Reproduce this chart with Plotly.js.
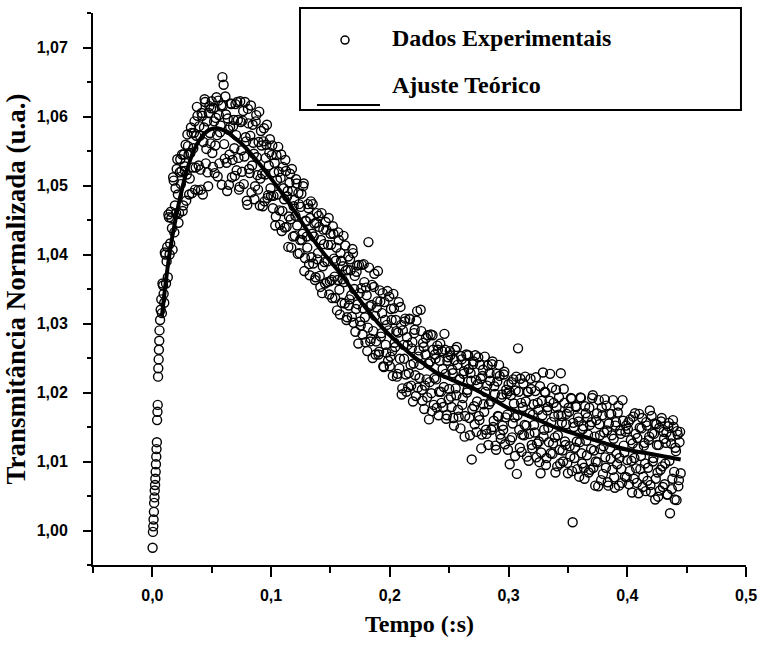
<!DOCTYPE html>
<html>
<head>
<meta charset="utf-8">
<script src="https://cdn.plot.ly/plotly-3.0.1.min.js"></script>
<style>html,body{margin:0;padding:0;background:#fff;}#chart{width:759px;height:650px;}</style>
</head>
<body>
<div id="chart"></div>
<script>
// Experimental data, series A: time (s) and normalized transmittance
var tempo = [
0.0002,0.0005,0.0008,0.0010,0.0013,0.0015,0.0018,0.0020,0.0023,0.0025,0.0028,0.0030,0.0033,0.0035,0.0038,0.0040,0.0043,0.0045,0.0048,0.0050,0.0053,0.0055,0.0058,0.0060,0.0065,0.0070,0.0075,
0.008,0.009,0.010,0.011,0.012,0.013,0.014,0.015,0.016,0.017,
0.018,0.019,0.020,0.021,0.022,0.023,0.024,0.025,0.026,0.027,
0.028,0.029,0.030,0.031,0.032,0.033,0.034,0.035,0.036,0.037,
0.038,0.039,0.040,0.041,0.042,0.043,0.044,0.045,0.046,0.047,
0.048,0.049,
0.050,0.051,0.052,0.053,0.054,0.055,0.056,0.057,0.058,0.059,
0.060,0.061,0.062,0.063,0.064,0.065,0.066,0.067,0.068,0.069,
0.070,0.071,0.072,0.073,0.074,0.075,0.076,0.077,0.078,0.079,
0.080,0.081,0.082,0.083,0.084,0.085,0.086,0.087,0.088,0.089,
0.090,0.091,0.092,0.093,0.094,0.095,0.096,0.097,0.098,0.099,
0.100,
0.101,0.102,0.103,0.104,0.105,0.106,0.107,0.108,0.109,0.110,
0.111,0.112,0.113,0.114,0.115,0.116,0.117,0.118,0.119,0.120,
0.121,0.122,0.123,0.124,0.125,0.126,0.127,0.128,0.129,0.130,
0.131,0.132,0.133,0.134,0.135,0.136,0.137,0.138,0.139,0.140,
0.141,0.142,0.143,0.144,0.145,0.146,0.147,0.148,0.149,0.150,
0.151,0.152,0.153,0.154,0.155,0.156,0.157,0.158,0.159,0.160,
0.161,0.162,0.163,0.164,0.165,0.166,0.167,0.168,0.169,0.170,
0.171,0.172,0.173,0.174,0.175,0.176,0.177,0.178,0.179,0.180,
0.181,0.182,0.183,0.184,0.185,0.186,0.187,0.188,0.189,0.190,
0.191,0.192,0.193,0.194,0.195,0.196,0.197,0.198,0.199,0.200,
0.201,0.202,0.203,0.204,0.205,0.206,0.207,0.208,0.209,0.210,
0.211,0.212,0.213,0.214,0.215,0.216,0.217,0.218,0.219,0.220,
0.221,0.222,0.223,0.224,0.225,0.226,0.227,0.228,0.229,0.230,
0.231,0.232,0.233,0.234,0.235,0.236,0.237,0.238,0.239,0.240,
0.241,0.242,0.243,0.244,0.245,0.246,0.247,0.248,0.249,0.250,
0.251,0.252,0.253,0.254,0.255,0.256,0.257,0.258,0.259,0.260,
0.261,0.262,0.263,0.264,0.265,0.266,0.267,0.268,0.269,0.270,
0.271,0.272,0.273,0.274,0.275,0.276,0.277,0.278,0.279,0.280,
0.281,0.282,0.283,0.284,0.285,0.286,0.287,0.288,0.289,0.290,
0.291,0.292,0.293,0.294,0.295,0.296,0.297,0.298,0.299,0.300,
0.301,0.302,0.303,0.304,0.305,0.306,0.307,0.308,0.309,0.310,
0.311,0.312,0.313,0.314,0.315,0.316,0.317,0.318,0.319,0.320,
0.321,0.322,0.323,0.324,0.325,0.326,0.327,0.328,0.329,0.330,
0.331,0.332,0.333,0.334,0.335,0.336,0.337,0.338,0.339,0.340,
0.341,0.342,0.343,0.344,0.345,0.346,0.347,0.348,0.349,0.350,
0.351,0.352,0.353,0.354,0.355,0.356,0.357,0.358,0.359,0.360,
0.361,0.362,0.363,0.364,0.365,0.366,0.367,0.368,0.369,0.370,
0.371,0.372,0.373,0.374,0.375,0.376,0.377,0.378,0.379,0.380,
0.381,0.382,0.383,0.384,0.385,0.386,0.387,0.388,0.389,0.390,
0.391,0.392,0.393,0.394,0.395,0.396,0.397,0.398,0.399,0.400,
0.401,0.402,0.403,0.404,0.405,0.406,0.407,0.408,0.409,0.410,
0.411,0.412,0.413,0.414,0.415,0.416,0.417,0.418,0.419,0.420,
0.421,0.422,0.423,0.424,0.425,0.426,0.427,0.428,0.429,0.430,
0.431,0.432,0.433,0.434,0.435,0.436,0.437,0.438,0.439,0.440,
0.441,0.442,0.443,0.444,0.445
];
var transmitancia = [
0.9975,0.9998,1.0006,1.0016,1.0027,1.0040,1.0048,1.0058,1.0066,1.0075,1.0085,1.0096,1.0107,1.0118,1.0128,1.0160,1.0172,1.0182,1.0223,1.0235,1.0248,1.0262,1.0275,1.0290,1.0305,1.0320,1.0335,
1.0315,1.0355,1.0330,1.0400,1.0390,1.0367,1.0454,1.0416,1.0453,1.0407,
1.0507,1.0471,1.0460,1.0538,1.0446,1.0519,1.0502,1.0545,1.0471,1.0528,
1.0559,1.0516,1.0557,1.0487,1.0547,1.0576,1.0526,1.0576,1.0494,1.0572,
1.0601,1.0529,1.0572,1.0494,1.0601,1.0563,1.0625,1.0532,1.0593,1.0499,
1.0615,1.0561,
1.0622,1.0527,1.0593,1.0558,1.0628,1.0513,1.0602,1.0577,1.0616,1.0657,
1.0646,1.0539,1.0603,1.0492,1.0581,1.0545,1.0619,1.0512,1.0586,1.0554,
1.0618,1.0522,1.0595,1.0494,1.0622,1.0551,1.0594,1.0502,1.0621,1.0564,
1.0472,1.0590,1.0518,1.0616,1.0529,1.0562,1.0480,1.0593,1.0541,1.0494,
1.0607,1.0510,1.0558,1.0470,1.0583,1.0516,1.0559,1.0482,1.0529,1.0567,
1.0485,
1.0558,1.0485,1.0533,1.0455,1.0508,1.0556,1.0464,1.0511,1.0434,1.0527,
1.0480,1.0537,1.0440,1.0492,1.0455,1.0517,1.0410,1.0492,1.0470,1.0427,
1.0509,1.0442,1.0489,1.0402,1.0469,1.0421,1.0499,1.0376,1.0449,1.0426,
1.0473,1.0386,1.0453,1.0396,1.0473,1.0426,1.0363,1.0446,1.0393,1.0456,
1.0369,1.0421,1.0344,1.0436,1.0389,1.0447,1.0360,1.0414,1.0342,1.0430,
1.0363,1.0441,1.0394,1.0337,1.0410,1.0363,1.0421,1.0313,1.0391,1.0364,
1.0427,1.0329,1.0377,1.0309,1.0397,1.0335,1.0377,1.0310,1.0402,1.0350,
1.0288,1.0375,1.0328,1.0385,1.0303,1.0351,1.0284,1.0386,1.0309,1.0352,
1.0260,1.0418,1.0325,1.0278,1.0356,1.0289,1.0372,1.0255,1.0323,1.0376,
1.0259,1.0332,1.0286,1.0344,1.0237,1.0305,1.0258,1.0347,1.0290,1.0238,
1.0321,1.0260,1.0343,1.0272,1.0305,1.0223,1.0287,1.0235,1.0324,1.0197,
1.0290,1.0249,1.0307,1.0201,1.0269,1.0228,1.0306,1.0210,1.0273,1.0242,
1.0291,1.0195,1.0318,1.0252,1.0221,1.0320,1.0204,1.0272,1.0176,1.0255,
1.0219,1.0283,1.0161,1.0245,1.0199,1.0283,1.0182,1.0255,1.0219,1.0268,
1.0167,1.0246,1.0201,1.0260,1.0179,1.0285,1.0227,1.0167,1.0251,1.0205,
1.0254,1.0179,1.0228,1.0152,1.0262,1.0196,1.0240,1.0165,1.0219,1.0253,
1.0182,1.0227,1.0136,1.0241,1.0200,1.0254,1.0163,1.0228,1.0103,1.0241,
1.0180,1.0254,1.0143,1.0212,1.0166,1.0240,1.0119,1.0224,1.0183,1.0252,
1.0146,1.0210,1.0124,1.0228,1.0187,1.0241,1.0150,1.0209,1.0123,1.0227,
1.0166,1.0240,1.0139,1.0193,1.0152,1.0226,1.0125,1.0204,1.0168,1.0212,
1.0096,1.0196,1.0135,1.0219,1.0164,1.0203,1.0082,1.0264,1.0146,1.0220,
1.0114,1.0179,1.0138,1.0223,1.0152,1.0201,1.0101,1.0170,1.0205,1.0119,
1.0183,1.0142,1.0222,1.0126,1.0175,1.0099,1.0083,1.0188,1.0229,1.0146,
1.0200,1.0105,1.0179,1.0128,1.0227,1.0157,1.0111,1.0185,1.0135,1.0204,
1.0093,1.0168,1.0117,1.0228,1.0156,1.0100,1.0185,1.0124,1.0169,1.0083,
1.0172,1.0107,1.0191,1.0012,1.0150,1.0120,1.0179,1.0089,1.0158,1.0128,
1.0192,1.0097,1.0151,1.0075,1.0170,1.0109,1.0139,1.0178,1.0088,1.0157,
1.0196,1.0116,1.0065,1.0160,1.0099,1.0189,1.0138,1.0073,1.0167,1.0122,
1.0190,1.0091,1.0145,1.0065,1.0169,1.0104,1.0138,1.0189,1.0077,1.0152,
1.0111,1.0171,1.0065,1.0145,1.0089,1.0189,1.0123,1.0078,1.0152,1.0102,
1.0157,1.0086,1.0131,1.0055,1.0165,1.0105,1.0140,1.0069,1.0119,1.0169,
1.0089,1.0148,1.0063,1.0123,1.0097,1.0157,1.0072,1.0131,1.0174,1.0056,
1.0141,1.0105,1.0155,1.0075,1.0124,1.0049,1.0149,1.0088,1.0163,1.0063,
1.0133,1.0097,1.0142,1.0052,1.0156,1.0025,1.0126,1.0075,1.0150,1.0045,
1.0115,1.0144,1.0064,1.0128,1.0083
];
// Experimental data, series B (interleaved samples)
var tempoB = [
0.0085,0.0095,0.0105,0.0115,0.0125,0.0135,0.0145,0.0155,0.0165,0.0175,
0.0185,0.0195,0.0205,0.0215,0.0225,0.0235,0.0245,0.0255,0.0265,0.0275,
0.0285,0.0295,0.0305,0.0315,0.0325,0.0335,0.0345,0.0355,0.0365,0.0375,
0.0385,0.0395,0.0405,0.0415,0.0425,0.0435,0.0445,0.0455,0.0465,0.0475,
0.0485,0.0495,
0.0505,0.0515,0.0525,0.0535,0.0545,0.0555,0.0565,0.0575,0.0585,0.0595,
0.0605,0.0615,0.0625,0.0635,0.0645,0.0655,0.0665,0.0675,0.0685,0.0695,
0.0705,0.0715,0.0725,0.0735,0.0745,0.0755,0.0765,0.0775,0.0785,0.0795,
0.0805,0.0815,0.0825,0.0835,0.0845,0.0855,0.0865,0.0875,0.0885,0.0895,
0.0905,0.0915,0.0925,0.0935,0.0945,0.0955,0.0965,0.0975,0.0985,0.0995,
0.1005,0.1015,0.1025,0.1035,0.1045,0.1055,0.1065,0.1075,0.1085,0.1095,
0.1105,0.1115,0.1125,0.1135,0.1145,0.1155,0.1165,0.1175,0.1185,0.1195,
0.1205,0.1215,0.1225,0.1235,0.1245,0.1255,0.1265,0.1275,0.1285,0.1295,
0.1305,0.1315,0.1325,0.1335,0.1345,0.1355,0.1365,0.1375,0.1385,0.1395,
0.1405,0.1415,0.1425,0.1435,0.1445,0.1455,0.1465,0.1475,0.1485,0.1495,
0.1505,0.1515,0.1525,0.1535,0.1545,0.1555,0.1565,0.1575,0.1585,0.1595,
0.1605,0.1615,0.1625,0.1635,0.1645,0.1655,0.1665,0.1675,0.1685,0.1695,
0.1705,0.1715,0.1725,0.1735,0.1745,0.1755,0.1765,0.1775,0.1785,0.1795,
0.1805,0.1815,0.1825,0.1835,0.1845,0.1855,0.1865,0.1875,0.1885,0.1895,
0.1905,0.1915,0.1925,0.1935,0.1945,0.1955,0.1965,0.1975,0.1985,0.1995,
0.2005,0.2015,0.2025,0.2035,0.2045,0.2055,0.2065,0.2075,0.2085,0.2095,
0.2105,0.2115,0.2125,0.2135,0.2145,0.2155,0.2165,0.2175,0.2185,0.2195,
0.2205,0.2215,0.2225,0.2235,0.2245,0.2255,0.2265,0.2275,0.2285,0.2295,
0.2305,0.2315,0.2325,0.2335,0.2345,0.2355,0.2365,0.2375,0.2385,0.2395,
0.2405,0.2415,0.2425,0.2435,0.2445,0.2455,0.2465,0.2475,0.2485,0.2495,
0.2505,0.2515,0.2525,0.2535,0.2545,0.2555,0.2565,0.2575,0.2585,0.2595,
0.2605,0.2615,0.2625,0.2635,0.2645,0.2655,0.2665,0.2675,0.2685,0.2695,
0.2705,0.2715,0.2725,0.2735,0.2745,0.2755,0.2765,0.2775,0.2785,0.2795,
0.2805,0.2815,0.2825,0.2835,0.2845,0.2855,0.2865,0.2875,0.2885,0.2895,
0.2905,0.2915,0.2925,0.2935,0.2945,0.2955,0.2965,0.2975,0.2985,0.2995,
0.3005,0.3015,0.3025,0.3035,0.3045,0.3055,0.3065,0.3075,0.3085,0.3095,
0.3105,0.3115,0.3125,0.3135,0.3145,0.3155,0.3165,0.3175,0.3185,0.3195,
0.3205,0.3215,0.3225,0.3235,0.3245,0.3255,0.3265,0.3275,0.3285,0.3295,
0.3305,0.3315,0.3325,0.3335,0.3345,0.3355,0.3365,0.3375,0.3385,0.3395,
0.3405,0.3415,0.3425,0.3435,0.3445,0.3455,0.3465,0.3475,0.3485,0.3495,
0.3505,0.3515,0.3525,0.3535,0.3545,0.3555,0.3565,0.3575,0.3585,0.3595,
0.3605,0.3615,0.3625,0.3635,0.3645,0.3655,0.3665,0.3675,0.3685,0.3695,
0.3705,0.3715,0.3725,0.3735,0.3745,0.3755,0.3765,0.3775,0.3785,0.3795,
0.3805,0.3815,0.3825,0.3835,0.3845,0.3855,0.3865,0.3875,0.3885,0.3895,
0.3905,0.3915,0.3925,0.3935,0.3945,0.3955,0.3965,0.3975,0.3985,0.3995,
0.4005,0.4015,0.4025,0.4035,0.4045,0.4055,0.4065,0.4075,0.4085,0.4095,
0.4105,0.4115,0.4125,0.4135,0.4145,0.4155,0.4165,0.4175,0.4185,0.4195,
0.4205,0.4215,0.4225,0.4235,0.4245,0.4255,0.4265,0.4275,0.4285,0.4295,
0.4305,0.4315,0.4325,0.4335,0.4345,0.4355,0.4365,0.4375,0.4385,0.4395,
0.4405,0.4415,0.4425,0.4435,0.4445
];
var transmitanciaB = [
1.0358,1.0343,1.0403,1.0358,1.0411,1.0458,1.0400,1.0462,1.0438,1.0512,
1.0432,1.0496,1.0524,1.0487,1.0460,1.0538,1.0521,1.0463,1.0545,1.0521,
1.0478,1.0574,1.0545,1.0510,1.0584,1.0489,1.0554,1.0593,1.0526,1.0614,
1.0493,1.0586,1.0523,1.0605,1.0487,1.0584,1.0621,1.0553,1.0519,1.0605,
1.0576,1.0612,
1.0547,1.0612,1.0518,1.0598,1.0573,1.0623,1.0532,1.0587,1.0501,1.0616,
1.0560,1.0629,1.0533,1.0597,1.0501,1.0585,1.0618,1.0537,1.0595,1.0514,
1.0573,1.0621,1.0540,1.0498,1.0592,1.0520,1.0608,1.0542,1.0570,1.0478,
1.0611,1.0524,1.0572,1.0490,1.0588,1.0546,1.0499,1.0602,1.0515,1.0563,
1.0471,1.0579,1.0517,1.0564,1.0477,1.0540,1.0588,1.0486,1.0548,1.0496,
1.0544,1.0467,1.0519,1.0442,1.0544,1.0487,1.0520,1.0443,1.0545,1.0463,
1.0496,1.0439,1.0521,1.0484,1.0411,1.0504,1.0451,1.0524,1.0426,1.0479,
1.0456,1.0503,1.0401,1.0473,1.0421,1.0488,1.0430,1.0503,1.0395,1.0448,
1.0410,1.0467,1.0370,1.0477,1.0430,1.0387,1.0445,1.0367,1.0460,1.0402,
1.0440,1.0353,1.0460,1.0383,1.0415,1.0358,1.0436,1.0390,1.0453,1.0361,
1.0414,1.0337,1.0430,1.0368,1.0391,1.0319,1.0432,1.0349,1.0402,1.0330,
1.0383,1.0360,1.0413,1.0305,1.0378,1.0326,1.0393,1.0341,1.0408,1.0301,
1.0369,1.0321,1.0384,1.0271,1.0344,1.0297,1.0385,1.0322,1.0360,1.0273,
1.0341,1.0294,1.0381,1.0274,1.0327,1.0250,1.0353,1.0311,1.0274,1.0332,
1.0255,1.0348,1.0281,1.0315,1.0238,1.0331,1.0269,1.0298,1.0246,1.0339,
1.0252,1.0305,1.0224,1.0322,1.0266,1.0289,1.0227,1.0331,1.0249,1.0298,
1.0206,1.0269,1.0303,1.0226,1.0280,1.0208,1.0307,1.0240,1.0264,1.0187,
1.0286,1.0225,1.0304,1.0207,1.0261,1.0240,1.0289,1.0188,1.0266,1.0210,
1.0279,1.0193,1.0242,1.0215,1.0284,1.0173,1.0262,1.0221,1.0249,1.0178,
1.0262,1.0201,1.0271,1.0185,1.0234,1.0208,1.0262,1.0162,1.0246,1.0190,
1.0260,1.0194,1.0233,1.0163,1.0247,1.0206,1.0266,1.0175,1.0219,1.0148,
1.0248,1.0192,1.0231,1.0166,1.0255,1.0204,1.0234,1.0138,1.0217,1.0176,
1.0245,1.0154,1.0218,1.0187,1.0251,1.0160,1.0220,1.0139,1.0233,1.0172,
1.0201,1.0140,1.0239,1.0183,1.0217,1.0146,1.0245,1.0159,1.0198,1.0117,
1.0216,1.0165,1.0224,1.0133,1.0197,1.0146,1.0230,1.0164,1.0198,1.0117,
1.0202,1.0131,1.0215,1.0155,1.0184,1.0108,1.0223,1.0167,1.0201,1.0120,
1.0185,1.0139,1.0213,1.0153,1.0187,1.0107,1.0201,1.0140,1.0220,1.0124,
1.0168,1.0153,1.0202,1.0106,1.0185,1.0129,1.0209,1.0113,1.0167,1.0136,
1.0201,1.0095,1.0174,1.0149,1.0188,1.0112,1.0207,1.0126,1.0165,1.0084,
1.0179,1.0138,1.0193,1.0097,1.0166,1.0116,1.0205,1.0129,1.0154,1.0098,
1.0178,1.0122,1.0192,1.0086,1.0156,1.0105,1.0180,1.0129,1.0164,1.0078,
1.0193,1.0112,1.0147,1.0091,1.0180,1.0130,1.0164,1.0084,1.0153,1.0118,
1.0192,1.0091,1.0136,1.0100,1.0170,1.0064,1.0154,1.0118,1.0178,1.0082,
1.0142,1.0106,1.0181,1.0070,1.0155,1.0119,1.0169,1.0088,1.0133,1.0062,
1.0157,1.0096,1.0181,1.0105,1.0140,1.0069,1.0159,1.0113,1.0143,1.0077,
1.0147,1.0067,1.0161,1.0101,1.0126,1.0075,1.0170,1.0090,1.0134,1.0054,
1.0149,1.0108,1.0163,1.0078,1.0127,1.0057,1.0152,1.0091,1.0136,1.0066,
1.0166,1.0100,1.0140,1.0045,1.0154,1.0084,1.0124,1.0058,1.0158,1.0093,
1.0143,1.0067,1.0127,1.0052,1.0151,1.0101,1.0136,1.0060,1.0160,1.0085,
1.0120,1.0044,1.0139,1.0073,1.0143
];
// Theoretical fit curve
var ajusteTempo = [0.008,0.012,0.016,0.02,0.025,0.03,0.035,0.04,0.045,0.05,0.055,0.06,0.065,0.07,0.075,0.08,0.085,0.09,0.095,0.1,0.11,0.12,0.13,0.14,0.15,0.16,0.17,0.18,0.19,0.2,0.21,0.22,0.23,0.24,0.25,0.26,0.27,0.28,0.29,0.3,0.32,0.34,0.36,0.38,0.4,0.42,0.445];
var ajusteValor = [1.0310,1.0370,1.0418,1.0455,1.0495,1.0527,1.0551,1.0567,1.0577,1.0582,1.0583,1.0580,1.0575,1.0568,1.0561,1.0552,1.0542,1.0532,1.0521,1.0510,1.0487,1.0462,1.0436,1.0411,1.0390,1.0369,1.0345,1.0322,1.0301,1.0283,1.0267,1.0252,1.0240,1.0228,1.0220,1.0213,1.0206,1.0197,1.0187,1.0177,1.0164,1.0149,1.0138,1.0127,1.0117,1.0111,1.0103];

var legendLabels = ["Dados Experimentais", "Ajuste Teórico"];
var xTitle = "Tempo (:s)";
var yTitle = "Transmitância Normalizada (u.a.)";

var serif = "Liberation Serif, Times New Roman, serif";
var sans = "Liberation Sans Narrow, Arial Narrow, Liberation Sans, Arial, sans-serif";

var traces = [
  {
    x: tempo.concat(tempoB), y: transmitancia.concat(transmitanciaB), type: 'scatter', mode: 'markers', name: legendLabels[0],
    marker: {symbol: 'circle-open', size: 9, color: '#000', line: {width: 1.4, color: '#000'}},
    cliponaxis: false
  },
  {
    x: ajusteTempo, y: ajusteValor, type: 'scatter', mode: 'lines', name: legendLabels[1],
    line: {color: '#000', width: 4, shape: 'spline', smoothing: 1}
  }
];

var axisCommon = {
  showgrid: false, zeroline: false, showline: true, linecolor: '#000', linewidth: 2,
  ticks: 'outside', tickcolor: '#000', tickwidth: 2,
  tickfont: {family: sans, size: 16, color: '#000', weight: 'bold'}
};

var layout = {
  width: 759, height: 650,
  margin: {l: 93, r: 13, t: 13, b: 85},
  paper_bgcolor: '#fff', plot_bgcolor: '#fff',
  separators: ',.',
  showlegend: false,
  xaxis: Object.assign({}, axisCommon, {
    range: [-0.05, 0.5], tickmode: 'linear', tick0: 0, dtick: 0.1, tickformat: '.1f',
    ticklen: 10, ticklabelstandoff: 5,
    minor: {dtick: 0.05, tick0: 0, ticks: 'outside', ticklen: 6, tickwidth: 2, tickcolor: '#000', showgrid: false},
    title: {text: xTitle, font: {family: serif, size: 24, color: '#000', weight: 'bold'}, standoff: 12}
  }),
  yaxis: Object.assign({}, axisCommon, {
    range: [0.995, 1.075], tickmode: 'linear', tick0: 1.0, dtick: 0.01, tickformat: '.2f',
    ticklen: 8, ticklabelstandoff: 12,
    minor: {dtick: 0.005, tick0: 1.0, ticks: 'outside', ticklen: 4, tickwidth: 2, tickcolor: '#000', showgrid: false},
    title: {text: yTitle, font: {family: serif, size: 27, color: '#000', weight: 'bold'}, standoff: 3}
  }),
  shapes: [
    {type: 'rect', xref: 'paper', yref: 'paper', x0: 0.3170, x1: 0.9923, y0: 0.8243, y1: 1.0091,
     line: {color: '#000', width: 2}, fillcolor: '#fff', layer: 'above'},
    {type: 'circle', xref: 'paper', yref: 'paper', x0: 0.3798, x1: 0.3920, y0: 0.9438, y1: 0.9583,
     line: {color: '#000', width: 1.5}, layer: 'above'},
    {type: 'line', xref: 'paper', yref: 'paper', x0: 0.343, x1: 0.4395, y0: 0.8333, y1: 0.8333,
     line: {color: '#000', width: 2}, layer: 'above'}
  ],
  annotations: [
    {xref: 'paper', yref: 'paper', x: 0.4548, y: 0.9547, xanchor: 'left', yanchor: 'middle', showarrow: false,
     text: legendLabels[0], font: {family: serif, size: 24, color: '#000', weight: 'bold'}},
    {xref: 'paper', yref: 'paper', x: 0.4548, y: 0.8696, xanchor: 'left', yanchor: 'middle', showarrow: false,
     text: legendLabels[1], font: {family: serif, size: 24, color: '#000', weight: 'bold'}}
  ]
};

Plotly.newPlot('chart', traces, layout, {displayModeBar: false, staticPlot: true});
</script>
</body>
</html>
